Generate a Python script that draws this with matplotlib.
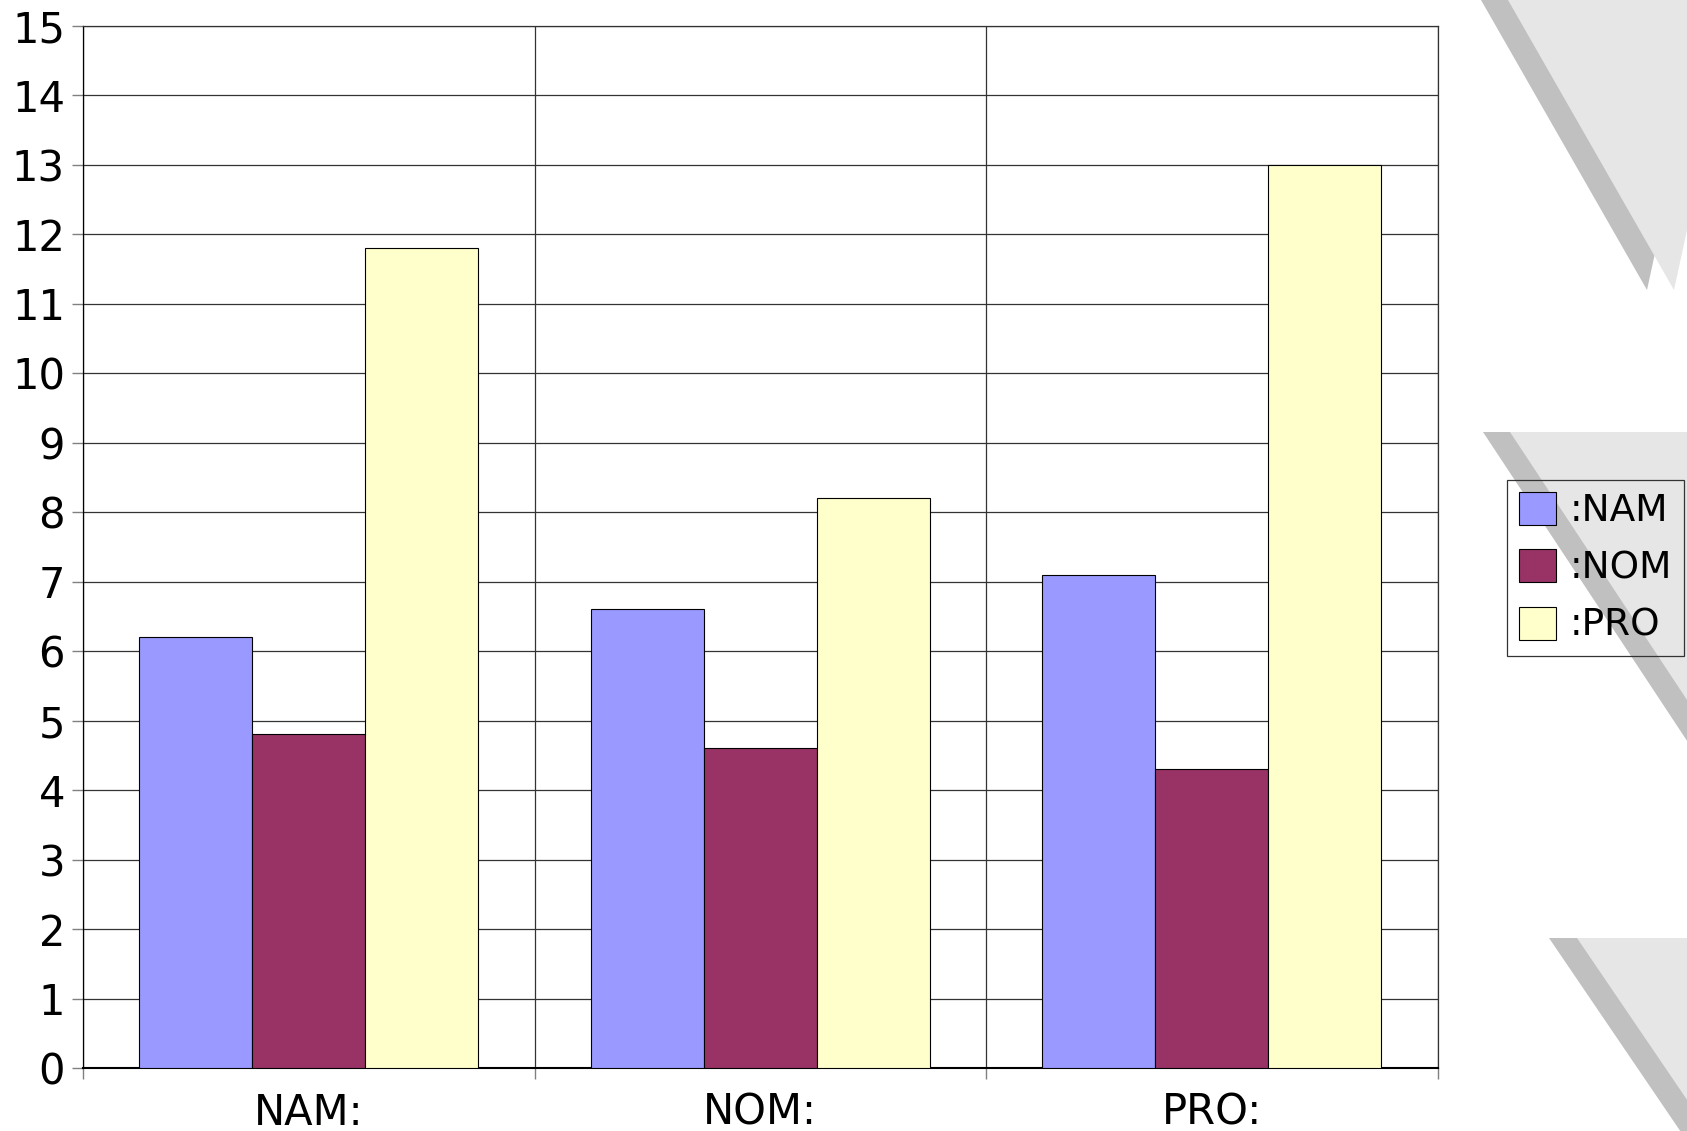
import matplotlib
matplotlib.use("Agg")
import matplotlib.pyplot as plt
from matplotlib.patches import Polygon, Patch
import numpy as np

categories = ["NAM:", "NOM:", "PRO:"]
series_names = [":NAM", ":NOM", ":PRO"]
values = {
    ":NAM": [6.2, 6.6, 7.1],
    ":NOM": [4.8, 4.6, 4.3],
    ":PRO": [11.8, 8.2, 13.0],
}
colors = ["#9999ff", "#993366", "#ffffcc"]
y_ticks = list(range(0, 16))

W, H = 1687, 1131
plt.rcParams["font.family"] = "DejaVu Sans"

fig = plt.figure(figsize=(W / 100, H / 100), dpi=100)


def px(x, y):
    # pixel coords (from top-left) -> figure fraction
    return (x / W, 1 - y / H)


def add_flag(pts, shift, slant_color="#c0c0c0", face_color="#e6e6e6"):
    shadow = [px(x - shift, y) for x, y in pts]
    face = [px(x, y) for x, y in pts]
    fig.add_artist(Polygon(shadow, closed=True, transform=fig.transFigure,
                           facecolor=slant_color, edgecolor="none", zorder=0))
    fig.add_artist(Polygon(face, closed=True, transform=fig.transFigure,
                           facecolor=face_color, edgecolor="none", zorder=0))


# decorative grey pennants down the right edge
add_flag([(1508, 0), (1737, 0), (1674, 290)], 27)
add_flag([(1510, 432), (1800, 432), (1800, 432 + 290 / 0.66)], 27)
add_flag([(1577, 938), (1900, 938), (1900, 938 + 323 / 0.68)], 28)

ax = fig.add_axes([83 / W, 1 - 1068 / H, (1437.5 - 83) / W, (1068 - 25.7) / H])
ax.set_zorder(1)
ax.patch.set_alpha(0)

x = np.arange(len(categories))
bw = 0.25
for i, name in enumerate(series_names):
    ax.bar(x + (i - 1) * bw, values[name], width=bw, color=colors[i],
           edgecolor="black", linewidth=0.8, zorder=3)

ax.set_xlim(-0.5, len(categories) - 0.5)
ax.set_ylim(0, 15)
ax.set_yticks(y_ticks)
ax.set_xticks(x)
ax.set_xticklabels(categories)
ax.set_xticks(np.arange(-0.5, len(categories)), minor=True)

ax.tick_params(axis="y", labelsize=30, length=8, width=1, color="#808080", pad=5)
ax.tick_params(axis="x", which="major", labelsize=30, length=0, pad=17)
ax.tick_params(axis="x", which="minor", length=8, width=1, color="#808080")

ax.grid(axis="y", color="#333333", linewidth=0.9, zorder=1)
ax.grid(axis="x", which="minor", color="#333333", linewidth=0.9, zorder=1)
ax.grid(axis="x", which="major", visible=False)
for s in ax.spines.values():
    s.set_linewidth(0.9)
    s.set_color("#333333")
ax.spines["left"].set_color("black")
ax.spines["bottom"].set_color("black")
ax.spines["bottom"].set_linewidth(1.5)

handles = [Patch(facecolor=c, edgecolor="black", linewidth=0.8) for c in colors]
leg = fig.legend(handles, series_names, loc="upper left",
                 bbox_to_anchor=px(1507, 480), bbox_transform=fig.transFigure,
                 fontsize=27, handlelength=0.98, handleheight=0.98,
                 handletextpad=0.36, labelspacing=0.53, borderpad=0.32,
                 borderaxespad=0, fancybox=False, framealpha=1)
leg.get_frame().set_facecolor("none")
leg.get_frame().set_edgecolor("#333333")
leg.get_frame().set_linewidth(0.9)

fig.savefig("out.png", dpi=100)
